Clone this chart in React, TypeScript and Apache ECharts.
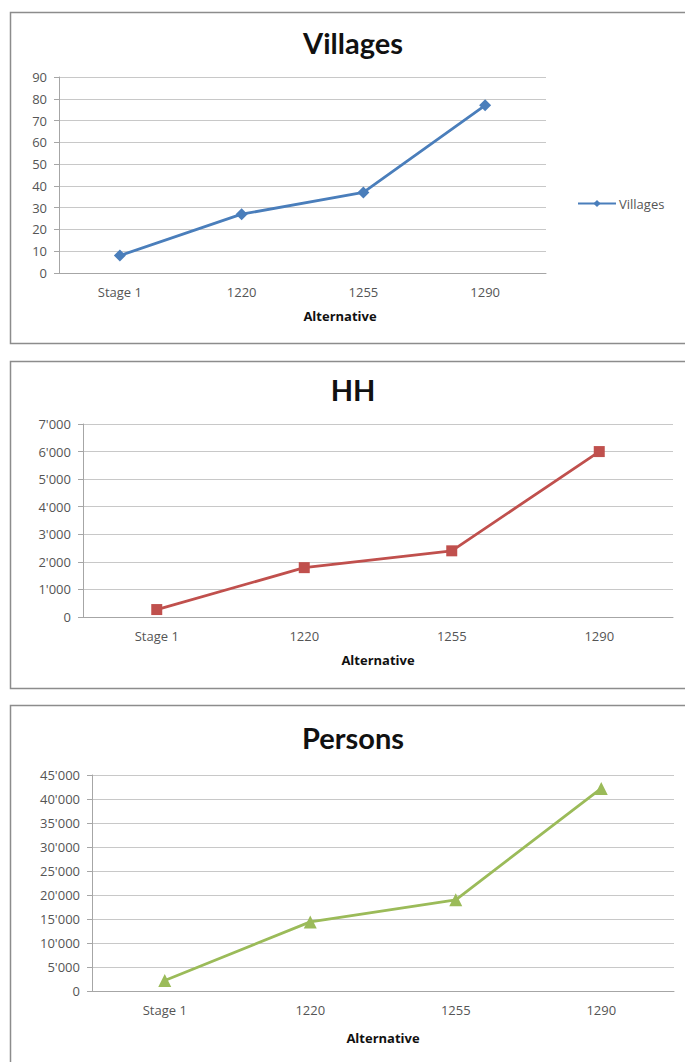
import React, { useEffect, useRef } from "react";
import * as echarts from "echarts";

const categories = ["Stage 1", "1220", "1255", "1290"];
const villages = [8, 27, 37, 77];
const households = [270, 1790, 2400, 6000];
const persons = [2200, 14400, 19000, 42200];
const chartTitles = ["Villages", "HH", "Persons"];
const axisTitle = "Alternative";

const FONT = "'Open Sans', Lato, sans-serif";
const TFONT = "Lato, 'Open Sans', sans-serif";
const LABEL = "#555555";

const fmt = (v: number) => String(v).replace(/\B(?=(\d{3})+(?!\d))/g, "'");

export default function App() {
  const ref = useRef<HTMLDivElement>(null);
  useEffect(() => {
    if (!ref.current) return;
    const chart = echarts.init(ref.current, undefined, { renderer: "svg" });
    const grids = [
      { left: 59, right: 139, top: 77, height: 196 },
      { left: 83, right: 12, top: 424, height: 193 },
      { left: 92, right: 11, top: 775, height: 216 },
    ];
    const yCfg = [
      { max: 90, interval: 10 },
      { max: 7000, interval: 1000 },
      { max: 45000, interval: 5000 },
    ];
    const titleY = [43, 390, 738];
    const axisTitlePos = [
      { x: 340, y: 316 },
      { x: 378, y: 660 },
      { x: 383, y: 1038 },
    ];
    const option: any = {
      animation: false,
      backgroundColor: "#ffffff",
      textStyle: { fontFamily: FONT },
      title: chartTitles.map((t, i) => ({
        text: t,
        left: 348,
        top: titleY[i] - 20,
        textAlign: "center",
        textStyle: { fontSize: 29, fontWeight: "bold", color: "#111", fontFamily: TFONT },
      })),
      legend: {
        show: true,
        data: ["Villages"],
        left: 572,
        top: 192,
        itemWidth: 38,
        itemHeight: 9,
        itemGap: 4,
        textStyle: { fontSize: 13, color: LABEL, fontFamily: FONT, padding: [0, 0, 0, -2] },
      },
      grid: grids.map((g) => ({ ...g, containLabel: false })),
      xAxis: grids.map((_, i) => ({
        type: "category",
        gridIndex: i,
        data: categories,
        boundaryGap: true,
        axisLine: { show: true, lineStyle: { color: "#a6a6a6", width: 1 } },
        axisTick: { show: false },
        axisLabel: { color: LABEL, fontSize: 13, margin: 12, fontFamily: FONT },
        splitLine: { show: false },
      })),
      yAxis: yCfg.map((c, i) => ({
        type: "value",
        gridIndex: i,
        min: 0,
        max: c.max,
        interval: c.interval,
        axisLine: { show: true, lineStyle: { color: "#a6a6a6", width: 1 } },
        axisTick: { show: true, length: 5, lineStyle: { color: "#a6a6a6" } },
        axisLabel: { color: LABEL, fontSize: 13, margin: 12, formatter: fmt, fontFamily: FONT },
        splitLine: { show: true, lineStyle: { color: "#c8c8c8", width: 1.2 } },
      })),
      series: [
        {
          name: "Villages",
          type: "line",
          xAxisIndex: 0,
          yAxisIndex: 0,
          data: villages,
          symbol: "diamond",
          symbolSize: 12,
          lineStyle: { color: "#4a7ebb", width: 2.8 },
          itemStyle: { color: "#4a7ebb" },
        },
        {
          name: "HH",
          type: "line",
          xAxisIndex: 1,
          yAxisIndex: 1,
          data: households,
          symbol: "rect",
          symbolSize: 11,
          lineStyle: { color: "#c0504d", width: 2.8 },
          itemStyle: { color: "#c0504d" },
        },
        {
          name: "Persons",
          type: "line",
          xAxisIndex: 2,
          yAxisIndex: 2,
          data: persons,
          symbol: "triangle",
          symbolSize: 13,
          lineStyle: { color: "#9bbb59", width: 2.8 },
          itemStyle: { color: "#9bbb59" },
        },
      ],
      graphic: [
        { type: "rect", shape: { x: 10.5, y: 12.5, width: 700, height: 331 }, style: { fill: "none", stroke: "#8c8c8c", lineWidth: 1.5 }, z: 0 },
        { type: "rect", shape: { x: 10.5, y: 361.5, width: 700, height: 327 }, style: { fill: "none", stroke: "#8c8c8c", lineWidth: 1.5 }, z: 0 },
        { type: "rect", shape: { x: 10.5, y: 705.5, width: 700, height: 400 }, style: { fill: "none", stroke: "#8c8c8c", lineWidth: 1.5 }, z: 0 },
        ...axisTitlePos.map((p) => ({
          type: "text",
          x: p.x,
          y: p.y,
          style: {
            text: axisTitle,
            fill: "#111",
            font: `bold 13px ${FONT}`,
            textAlign: "center",
            textVerticalAlign: "middle",
          },
        })),
      ],
    };
    chart.setOption(option);
    return () => chart.dispose();
  }, []);
  return (
    <div
      ref={ref}
      style={{ position: "absolute", left: 0, top: 0, width: 685, height: 1062 }}
    />
  );
}
